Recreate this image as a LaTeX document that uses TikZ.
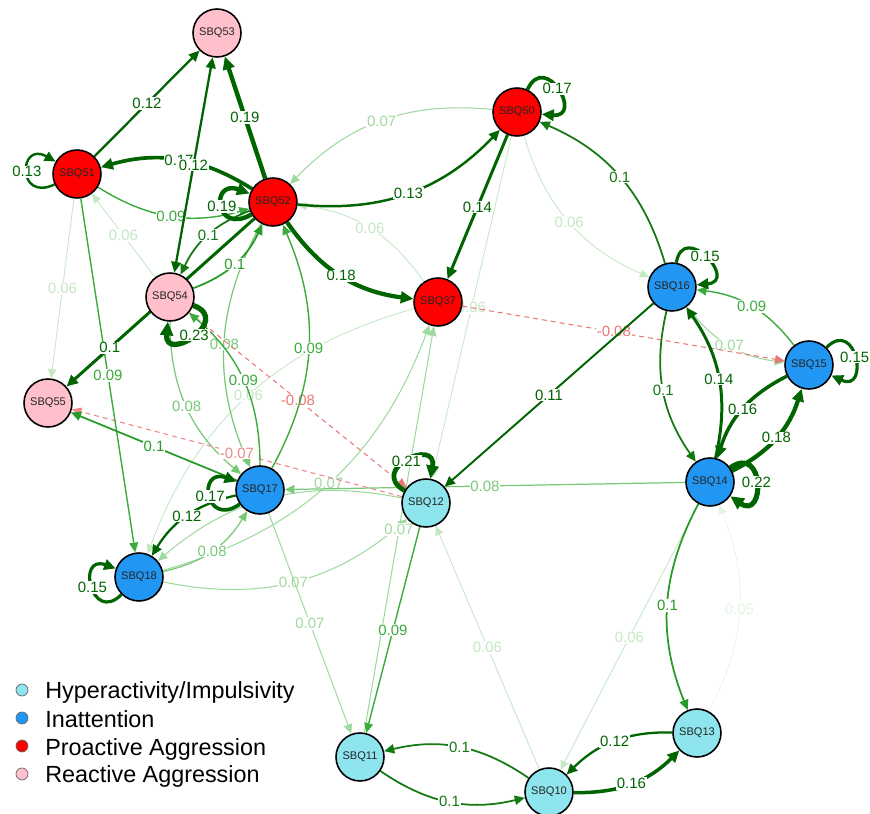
\documentclass[tikz,border=0pt]{standalone}
\usepackage{fontspec}
\setmainfont{Liberation Sans}
\usetikzlibrary{arrows.meta}
\definecolor{HI}{RGB}{142,229,238}
\definecolor{IA}{RGB}{33,150,243}
\definecolor{PA}{RGB}{255,0,0}
\definecolor{RA}{RGB}{255,192,203}
\definecolor{GD}{RGB}{0,100,0}
\definecolor{G10}{RGB}{20,120,20}
\definecolor{G10m}{RGB}{40,155,40}
\definecolor{G09}{RGB}{60,170,60}
\definecolor{G08}{RGB}{120,200,120}
\definecolor{G07}{RGB}{160,217,160}
\definecolor{G06}{RGB}{196,232,196}
\definecolor{G05}{RGB}{228,244,228}
\definecolor{R08}{RGB}{232,120,120}
\definecolor{R07}{RGB}{236,135,135}
\pgfdeclarelayer{front}
\pgfsetlayers{main,front}
\begin{document}
\begin{tikzpicture}[x=0.02cm,y=0.02cm,
  nd/.style={circle,draw=black,line width=0.9pt,minimum size=0.96cm,inner sep=0pt,text=black!85,font=\fontsize{6.3}{7}\selectfont},
  hi/.style={nd,fill=HI}, ia/.style={nd,fill=IA}, pa/.style={nd,fill=PA}, ra/.style={nd,fill=RA},
  lbl/.style={fill=white,inner sep=0.5pt,font=\fontsize{8.5}{9}\selectfont},
  arr/.style={-{Triangle[length=4.8pt 1,width=4.2pt 1]}},
  dbl/.style={{Triangle[length=4.8pt 1,width=4.2pt 1]}-{Triangle[length=4.8pt 1,width=4.2pt 1]}},
  g05/.style={color=G05,line width=0.4pt},
  g06/.style={color=G06,line width=0.5pt},
  g07/.style={color=G07,line width=0.6pt},
  g08/.style={color=G08,line width=0.7pt},
  g09/.style={color=G09,line width=0.8pt},
  g10/.style={color=G10,line width=1.0pt},
  g10m/.style={color=G10m,line width=1.0pt},
  g11/.style={color=GD,line width=1.1pt},
  g12/.style={color=GD,line width=1.3pt},
  g13/.style={color=GD,line width=1.4pt},
  g14/.style={color=GD,line width=1.7pt},
  g15/.style={color=GD,line width=1.8pt},
  g16/.style={color=GD,line width=2.0pt},
  g17/.style={color=GD,line width=2.1pt},
  g18/.style={color=GD,line width=2.4pt},
  g19/.style={color=GD,line width=2.5pt},
  g21/.style={color=GD,line width=2.7pt},
  g22/.style={color=GD,line width=2.9pt},
  g23/.style={color=GD,line width=3.0pt},
  neg8/.style={color=R08,line width=0.6pt,dash pattern=on 2.8pt off 2.3pt},
  neg7/.style={color=R07,line width=0.6pt,dash pattern=on 2.8pt off 2.3pt},
  lp/.style={min distance=0.85cm}
]
\useasboundingbox (0,-814) rectangle (870,0);

\begin{pgfonlayer}{front}
\node[ra] (n53) at (217,-33) {SBQ53};
\node[pa] (n51) at (77,-174) {SBQ51};
\node[pa] (n52) at (273,-202) {SBQ52};
\node[pa] (n50) at (517,-112) {SBQ50};
\node[pa] (n37) at (438,-302) {SBQ37};
\node[ra] (n54) at (170,-297) {SBQ54};
\node[ra] (n55) at (48,-403) {SBQ55};
\node[ia] (n16) at (672,-287) {SBQ16};
\node[ia] (n15) at (809,-365) {SBQ15};
\node[ia] (n14) at (710,-482) {SBQ14};
\node[hi] (n12) at (426,-503) {SBQ12};
\node[ia] (n17) at (260,-490) {SBQ17};
\node[ia] (n18) at (139,-577) {SBQ18};
\node[hi] (n13) at (697,-733) {SBQ13};
\node[hi] (n10) at (549,-792) {SBQ10};
\node[hi] (n11) at (360,-757) {SBQ11};
\end{pgfonlayer}

% very light edges first
\draw[g05,arr] (n13) to[bend right=25] node[lbl]{0.05} (n14);
\draw[g06,arr] (n54) -- node[lbl]{0.06} (n51);
\draw[g06,arr] (n51) -- node[lbl]{0.06} (n55);
\draw[g06,arr] (n50) -- node[lbl]{0.06} (n12);
\draw[g06,arr] (n10) -- node[lbl]{0.06} (n12);
\draw[g06,arr] (n14) -- node[lbl]{0.06} (n10);
\draw[g06,arr] (n37) to[bend right=24] node[lbl]{0.06} (n52);
\draw[g06,arr] (n50) to[bend right=25] node[lbl]{0.06} (n16);
\draw[g06,arr] (n37) to[bend right=27] node[lbl]{0.06} (n18);
\draw[g07,arr] (n12) to[bend right=26] (n18);
\draw[g07,arr] (n18) to[bend right=26] node[lbl]{0.07} (n12);
\draw[g07,arr] (n18) to[bend right=27] node[lbl]{0.07} (n37);
\draw[g07,arr] (n50) to[bend right=26] node[lbl]{0.07} (n52);
\draw[g07,arr] (n16) to[bend right=23] node[lbl]{0.07} (n15);
\draw[g07,arr] (n17) -- node[lbl]{0.07} (n11);
\draw[g07,arr] (n11) -- node[lbl]{0.07} (n37);
\draw[g08,arr] (n14) -- node[lbl]{0.08} (n17);
\draw[g08,arr] (n52) to[bend right=26] node[lbl]{0.08} (n17);
\draw[g08,arr] (n54) to[bend right=25] node[lbl]{0.08} (n17);
\draw[g08,arr] (n18) to[bend right=23] node[lbl]{0.08} (n17);
\draw[neg8,arr] (n37) -- node[lbl,pos=0.47]{-0.08} (n15);
\draw[neg8,arr] (n54) -- node[lbl]{-0.08} (n12);
\draw[neg7,arr] (n12) -- node[lbl]{-0.07} (n55);
\draw[g09,arr] (n51) -- node[lbl]{0.09} (n18);
\draw[g09,arr] (n12) -- node[lbl]{0.09} (n11);
\draw[g09,arr] (n51) to[bend right=24] node[lbl]{0.09} (n52);
\draw[g09,arr] (n17) to[bend right=26] node[lbl]{0.09} (n52);
\draw[g09,arr] (n17) to[bend right=25] node[lbl]{0.09} (n54);
\draw[g09,arr] (n15) to[bend right=23] node[lbl]{0.09} (n16);
\draw[g10m,arr] (n17) -- node[lbl]{0.1} (n55);
\draw[g10m,arr] (n54) to[bend right=22] node[lbl]{0.1} (n52);
\draw[g10m,arr] (n14) to[bend right=25] node[lbl]{0.1} (n13);
\draw[g10,arr] (n52) to[bend right=22] node[lbl]{0.1} (n54);
\draw[g10,arr] (n16) to[bend right=25] node[lbl]{0.1} (n50);
\draw[g10,arr] (n16) to[bend right=24] node[lbl]{0.1} (n14);
\draw[g10,arr] (n10) to[bend right=24] node[lbl]{0.1} (n11);
\draw[g10,arr] (n11) to[bend right=24] node[lbl]{0.1} (n10);
\draw[g11,arr] (n16) -- node[lbl]{0.11} (n12);
\draw[g14,arr] (n52) -- node[lbl,pos=0.77]{0.1} (n55);
\draw[g12,arr] (n51) -- node[lbl]{0.12} (n53);
\draw[g12,arr] (n17) to[bend right=23] node[lbl]{0.12} (n18);
\draw[g12,arr] (n13) to[bend right=23] node[lbl]{0.12} (n10);
\draw[g13,arr] (n52) to[bend right=26] node[lbl]{0.13} (n50);
\draw[g14,arr] (n50) -- node[lbl]{0.14} (n37);
\draw[g14,arr] (n14) to[bend right=24] node[lbl]{0.14} (n16);
\draw[g16,arr] (n15) to[bend right=23] node[lbl]{0.16} (n14);
\draw[g16,arr] (n10) to[bend right=23] node[lbl]{0.16} (n13);
\draw[g17,arr] (n52) to[bend right=24] node[lbl]{0.17} (n51);
\draw[g12,dbl] (n53) -- node[lbl]{0.12} (n54);
\draw[g18,arr] (n52) to[bend right=24] node[lbl]{0.18} (n37);
\draw[g18,arr] (n14) to[bend right=23] node[lbl]{0.18} (n15);
\draw[g19,arr] (n52) -- node[lbl]{0.19} (n53);

% self loops
\draw[g13,arr] (n51) to[out=205,in=150,lp] node[lbl]{0.13} (n51);
\draw[g19,arr] (n52) to[out=210,in=160,lp] node[lbl]{0.19} (n52);
\draw[g17,arr] (n50) to[out=65,in=-5,lp] node[lbl]{0.17} (n50);
\draw[g23,arr] (n54) to[out=-20,in=-95,lp] node[lbl]{0.23} (n54);
\draw[g15,arr] (n16) to[out=80,in=5,lp] node[lbl]{0.15} (n16);
\draw[g15,arr] (n15) to[out=45,in=-25,lp] node[lbl]{0.15} (n15);
\draw[g22,arr] (n14) to[out=35,in=-35,lp] node[lbl]{0.22} (n14);
\draw[g21,arr] (n12) to[out=150,in=80,lp] node[lbl]{0.21} (n12);
\draw[g17,arr] (n17) to[out=215,in=160,lp] node[lbl]{0.17} (n17);
\draw[g15,arr] (n18) to[out=225,in=160,lp] node[lbl]{0.15} (n18);

% legend
\tikzset{lgc/.style={circle,draw=black!60,line width=0.4pt,minimum size=0.24cm,inner sep=0pt},
         lgt/.style={anchor=base west,inner sep=0pt,font=\fontsize{13.3}{15}\selectfont}}
\node[lgc,fill=HI] (lc1) at (22,-690) {};
\node[lgc,fill=IA] (lc2) at (22,-718) {};
\node[lgc,fill=PA] (lc3) at (22,-746) {};
\node[lgc,fill=RA] (lc4) at (22,-774) {};
\node[lgt] (lt1) at (45,-699) {Hyperactivity/Impulsivity};
\node[lgt] (lt2) at (45,-727) {Inattention};
\node[lgt] (lt3) at (45,-755) {Proactive Aggression};
\node[lgt] (lt4) at (45,-783) {Reactive Aggression};
\end{tikzpicture}
\end{document}
